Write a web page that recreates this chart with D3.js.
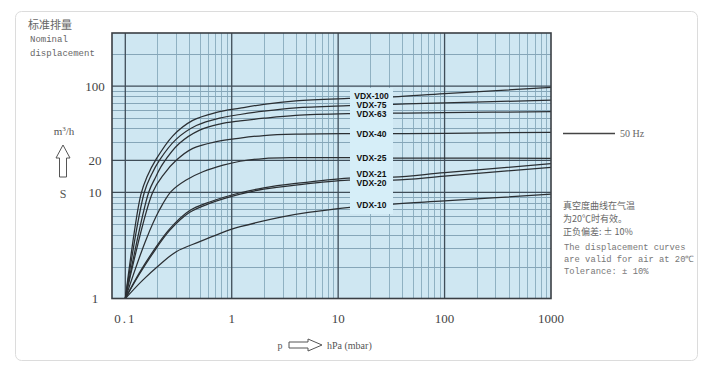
<!DOCTYPE html>
<html>
<head>
<meta charset="utf-8">
<script src="https://cdn.jsdelivr.net/npm/d3@7"></script>
<style>
  body { margin: 0; background: #fff; }
  svg { display: block; }
</style>
</head>
<body>
<div id="chart"></div>
<script>
// curve data: [pressure hPa, displacement m3/h]
var models = ["VDX-100", "VDX-75", "VDX-63", "VDX-40", "VDX-25", "VDX-21", "VDX-20", "VDX-10"];

var vdx100 = [[0.1,1],[0.14,9.5],[0.16,14],[0.195,20.5],[0.28,34],[0.43,47.5],[0.72,56.5],[1.2,62],[2,67.3],[4,72.5],[12.5,76.5],[33,79],[100,85],[1000,97]];
var vdx75  = [[0.1,1],[0.151,10],[0.175,14.5],[0.209,20],[0.3,31.5],[0.465,42.5],[0.77,50],[1.2,54],[2,58],[4,62.3],[12.5,65.3],[33,67.3],[100,69.3],[1000,73.8]];
var vdx63  = [[0.1,1],[0.166,10],[0.19,13.5],[0.225,18.5],[0.323,28.9],[0.5,38.5],[0.77,43.9],[1.2,47],[2,49.8],[4,53],[12.5,55],[33,55.5],[100,56.2],[1000,57.5]];
var vdx40  = [[0.1,1],[0.181,10],[0.233,15],[0.301,20],[0.431,25.9],[0.718,30],[1.2,32.4],[2,34.2],[4,35.2],[12.5,35.6],[33,35.6],[100,35.9],[1000,36.7]];
var vdx25  = [[0.1,1],[0.157,3.6],[0.209,6.8],[0.27,10.2],[0.37,13],[0.536,15.6],[0.83,18],[1.2,19.6],[2,20.8],[4,21.2],[12.5,21.2],[33,21],[100,21],[1000,20.9]];
var vdx21  = [[0.1,1],[0.136,1.75],[0.181,2.75],[0.26,4.5],[0.4,6.7],[0.62,8.1],[1.2,9.9],[2,11],[4,12.1],[12.5,13.6],[33,13.9],[100,15.3],[1000,18.6]];
var vdx20  = [[0.1,1],[0.136,1.7],[0.181,2.65],[0.26,4.35],[0.4,6.45],[0.62,7.85],[1.2,9.6],[2,10.7],[4,11.7],[12.5,13],[33,13],[100,14.2],[1000,17.2]];
var vdx10  = [[0.1,1],[0.146,1.49],[0.209,2.07],[0.301,2.76],[0.5,3.43],[1,4.5],[1.2,4.74],[3.07,5.9],[10,7],[33,7.75],[100,8.3],[1000,9.6]];

var series = [vdx100, vdx75, vdx63, vdx40, vdx25, vdx21, vdx20, vdx10];
var labelY = [95.5, 104.5, 113.5, 134, 158, 173.5, 182.5, 205];   // label rows inside the light strip

var xTicks = [0.1, 1, 10, 100, 1000];
var xTickLabels = ["0.1", "1", "10", "100", "1000"];
var yTicks = [1, 10, 20, 100];
var yTickLabels = ["1", "10", "20", "100"];

var width = 720,
    height = 373;

var svg = d3.select("#chart").append("svg")
    .attr("width", width)
    .attr("height", height);

// outer card
svg.append("rect")
    .attr("x", 15.5).attr("y", 11.5)
    .attr("width", 682).attr("height", 349)
    .attr("rx", 6)
    .attr("fill", "#fff")
    .attr("stroke", "#dcdcdc");

var x = d3.scaleLog().domain([0.075, 1000]).range([112, 551]);
var y = d3.scaleLog().domain([1, 316]).range([298.5, 33]);

var plot = svg.append("g");

plot.append("rect")
    .attr("x", 112).attr("y", 33)
    .attr("width", 439).attr("height", 265.5)
    .attr("fill", "#cfe7f2");

// minor grid
var xMinor = [];
[0.1, 1, 10, 100].forEach(function(d) {
    for (var k = 2; k <= 9; k++) xMinor.push(d * k);
});
var yMinor = [];
[1, 10, 100].forEach(function(d) {
    for (var k = 2; k <= 9; k++) if (d * k < 300) yMinor.push(d * k);
});

plot.selectAll(".vminor")
    .data(xMinor)
    .enter().append("line")
    .attr("x1", function(d) { return Math.round(x(d)) + 0.5; })
    .attr("x2", function(d) { return Math.round(x(d)) + 0.5; })
    .attr("y1", 33).attr("y2", 298.5)
    .attr("stroke", "#8fb1c2")
    .attr("stroke-width", 1);

plot.selectAll(".hminor")
    .data(yMinor)
    .enter().append("line")
    .attr("y1", function(d) { return Math.round(y(d)) + 0.5; })
    .attr("y2", function(d) { return Math.round(y(d)) + 0.5; })
    .attr("x1", 112).attr("x2", 551)
    .attr("stroke", "#86a6b8")
    .attr("stroke-width", 1);

// major grid
plot.selectAll(".vmajor")
    .data([0.1, 1, 10, 100])
    .enter().append("line")
    .attr("x1", function(d) { return x(d); })
    .attr("x2", function(d) { return x(d); })
    .attr("y1", 33).attr("y2", 298.5)
    .attr("stroke", "#3f4d58")
    .attr("stroke-width", 1.3);

plot.selectAll(".hmajor")
    .data([10, 20, 100])
    .enter().append("line")
    .attr("y1", function(d) { return y(d); })
    .attr("y2", function(d) { return y(d); })
    .attr("x1", 112).attr("x2", 551)
    .attr("stroke", "#3f4d58")
    .attr("stroke-width", 1.3);

// curves
var line = d3.line()
    .x(function(d) { return x(d[0]); })
    .y(function(d) { return y(d[1]); })
    .curve(d3.curveCatmullRom.alpha(0.5));

plot.selectAll(".curve")
    .data(series)
    .enter().append("path")
    .attr("d", line)
    .attr("fill", "none")
    .attr("stroke", "#2b2f33")
    .attr("stroke-width", 1.25);

// label strip hides grid and curves
plot.append("rect")
    .attr("x", 350).attr("y", 88)
    .attr("width", 43).attr("height", 126)
    .attr("fill", "#d6eef8");

plot.selectAll(".lbl")
    .data(models)
    .enter().append("text")
    .attr("x", 371.5)
    .attr("y", function(d, i) { return labelY[i] + 3; })
    .attr("text-anchor", "middle")
    .style("font-family", "'Liberation Sans', Arial, sans-serif")
    .style("font-weight", "bold")
    .style("font-size", "8.5px")
    .style("fill", "#111")
    .text(function(d) { return d; });

// frame
plot.append("rect")
    .attr("x", 112).attr("y", 33)
    .attr("width", 439).attr("height", 265.5)
    .attr("fill", "none")
    .attr("stroke", "#3a3f44")
    .attr("stroke-width", 1.6);

// tick labels
svg.selectAll(".xt")
    .data(xTicks)
    .enter().append("text")
    .attr("x", function(d) { return x(d); })
    .attr("y", 323)
    .attr("text-anchor", "middle")
    .style("font-family", "'Liberation Serif', serif")
    .style("font-size", "13px")
    .style("letter-spacing", function(d, i) { return i == 0 ? "2px" : "0px"; })
    .style("fill", "#444")
    .text(function(d, i) { return xTickLabels[i]; });

svg.selectAll(".yt")
    .data(yTicks)
    .enter().append("text")
    .attr("x", 95)
    .attr("y", function(d) { return y(d) + 4.5; })
    .attr("text-anchor", "middle")
    .style("font-family", "'Liberation Serif', serif")
    .style("font-size", "13px")
    .style("fill", "#444")
    .text(function(d, i) { return yTickLabels[i]; });

// y unit and arrow
svg.append("text")
    .attr("x", 64).attr("y", 135)
    .attr("text-anchor", "middle")
    .style("font-family", "'Liberation Serif', serif")
    .style("font-size", "11px")
    .style("fill", "#555")
    .html("m<tspan dy='-4' font-size='7px'>3</tspan><tspan dy='4'>/h</tspan>");

svg.append("path")
    .attr("d", "M63,145 L70,158 L66.5,158 L66.5,177 L59.5,177 L59.5,158 L56,158 Z")
    .attr("fill", "#fff")
    .attr("stroke", "#555")
    .attr("stroke-width", 1);

svg.append("text")
    .attr("x", 63).attr("y", 198)
    .attr("text-anchor", "middle")
    .style("font-family", "'Liberation Serif', serif")
    .style("font-size", "12px")
    .style("fill", "#555")
    .text("S");

// x unit and arrow
svg.append("text")
    .attr("x", 280).attr("y", 349)
    .attr("text-anchor", "middle")
    .style("font-family", "'Liberation Serif', serif")
    .style("font-size", "10px")
    .style("fill", "#555")
    .text("p");

svg.append("path")
    .attr("d", "M289,342 L308,342 L308,339 L322,345 L308,351 L308,348 L289,348 Z")
    .attr("fill", "#fff")
    .attr("stroke", "#555")
    .attr("stroke-width", 1);

svg.append("text")
    .attr("x", 327).attr("y", 349)
    .style("font-family", "'Liberation Serif', serif")
    .style("font-size", "10px")
    .style("fill", "#555")
    .text("hPa (mbar)");

// title top left
svg.append("text")
    .attr("x", 28).attr("y", 29)
    .style("font-family", "'Noto Sans CJK SC', sans-serif")
    .style("font-size", "11px")
    .style("fill", "#666")
    .text("标准排量");

svg.selectAll(".ttl")
    .data(["Nominal", "displacement"])
    .enter().append("text")
    .attr("x", 30)
    .attr("y", function(d, i) { return 42 + i * 13.5; })
    .style("font-family", "'Liberation Mono', monospace")
    .style("font-size", "9px")
    .style("fill", "#666")
    .text(function(d) { return d; });

// right side legend and notes
svg.append("line")
    .attr("x1", 563).attr("x2", 615)
    .attr("y1", 133.5).attr("y2", 133.5)
    .attr("stroke", "#444")
    .attr("stroke-width", 1.3);

svg.append("text")
    .attr("x", 620).attr("y", 137)
    .style("font-family", "'Liberation Serif', serif")
    .style("font-size", "10px")
    .style("fill", "#666")
    .text("50 Hz");

var notesCN = ["真空度曲线在气温", "为20℃时有效。", "正负偏差: ± 10%"];
var notesEN = ["The displacement curves", "are valid for air at 20℃", "Tolerance: ± 10%"];

svg.selectAll(".ncn")
    .data(notesCN)
    .enter().append("text")
    .attr("x", 563)
    .attr("y", function(d, i) { return 209 + i * 13; })
    .style("font-family", "'Noto Sans CJK SC', sans-serif")
    .style("font-size", "9px")
    .style("fill", "#666")
    .text(function(d) { return d; });

svg.selectAll(".nen")
    .data(notesEN)
    .enter().append("text")
    .attr("x", 564)
    .attr("y", function(d, i) { return 250 + i * 12; })
    .style("font-family", "'Liberation Mono', monospace")
    .style("font-size", "8.8px")
    .style("fill", "#777")
    .text(function(d) { return d; });
</script>
</body>
</html>
